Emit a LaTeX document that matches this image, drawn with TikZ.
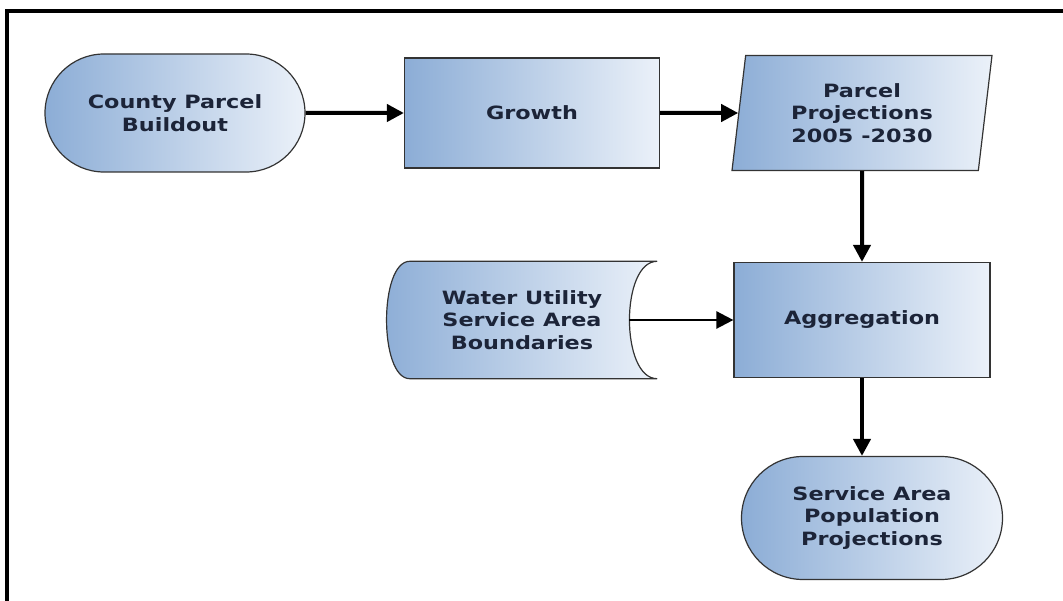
\documentclass[tikz,border=0pt]{standalone}
\usepackage{fontspec}
\newfontfamily\boxfont[FakeStretch=1.22]{DejaVu Sans}
\usetikzlibrary{arrows.meta,shapes.geometric,shapes.misc}
\pgfdeclarelayer{bg}
\pgfsetlayers{bg,main}
\definecolor{boxleft}{RGB}{140,173,214}
\definecolor{boxright}{RGB}{235,241,249}
\definecolor{boxtext}{RGB}{28,36,56}
\tikzset{
    every node/.style={align=center, text=boxtext, inner sep=0pt,
        font=\boxfont\bfseries\fontsize{18.3}{22.5}\selectfont}
}
\tikzset{
    boxfill/.style={left color=boxleft, right color=boxright, draw=black!80, line width=1.2pt},
    procbox/.style={rectangle, boxfill, minimum width=255pt, minimum height=110pt},
    termbox/.style={rounded rectangle, boxfill, minimum width=260pt, minimum height=118pt},
    databox/.style={trapezium, trapezium left angle=77, trapezium right angle=103,
        trapezium stretches body, boxfill, minimum width=260pt, minimum height=115pt},
    flow/.style={line width=4pt, -{Triangle[length=17pt,width=17pt]}}
}

\begin{document}
\begin{tikzpicture}[x=1pt, y=1pt]
        \useasboundingbox (0,0) rectangle (1063,-601);
        \draw [line width=3.5pt] (7,-601) -- (7,-11) -- (1063,-11);
        \node (cpb) [termbox] at (175,-113) {County Parcel\\Buildout};
        \node (gr) [procbox] at (532,-113) {Growth};
        \node (pp) [databox] at (862,-113) {Parcel\\Projections\\2005 -2030};
        \node (wu) [rectangle, minimum width=270pt, minimum height=117pt] at (522,-320) {Water Utility\\Service Area\\Boundaries};
        \node (agg) [procbox, minimum width=256pt, minimum height=115pt] at (862,-320) {Aggregation};
        \node (sapp) [termbox, minimum width=261pt, minimum height=123pt] at (872,-518) {Service Area\\Population\\Projections};
        \coordinate (wuout) at ([xshift=-28pt]wu.east);
        \begin{pgfonlayer}{bg}
                \shade [boxfill] ([xshift=23pt]wu.north west) -- (wu.north east)
                    .. controls ([xshift=-37pt]wu.north east) and ([xshift=-37pt]wu.south east) .. (wu.south east)
                    -- ([xshift=23pt]wu.south west)
                    .. controls ([xshift=-8pt]wu.south west) and ([xshift=-8pt]wu.north west) .. cycle;
        \end{pgfonlayer}
        \draw [flow] (cpb) -- (gr);
        \draw [flow] (gr) -- (pp);
        \draw [flow] (pp) -- (agg);
        \draw [flow, line width=2.5pt] (wuout) -- (agg);
        \draw [flow] (agg) -- (agg |- sapp.north);
\end{tikzpicture}
\end{document}
